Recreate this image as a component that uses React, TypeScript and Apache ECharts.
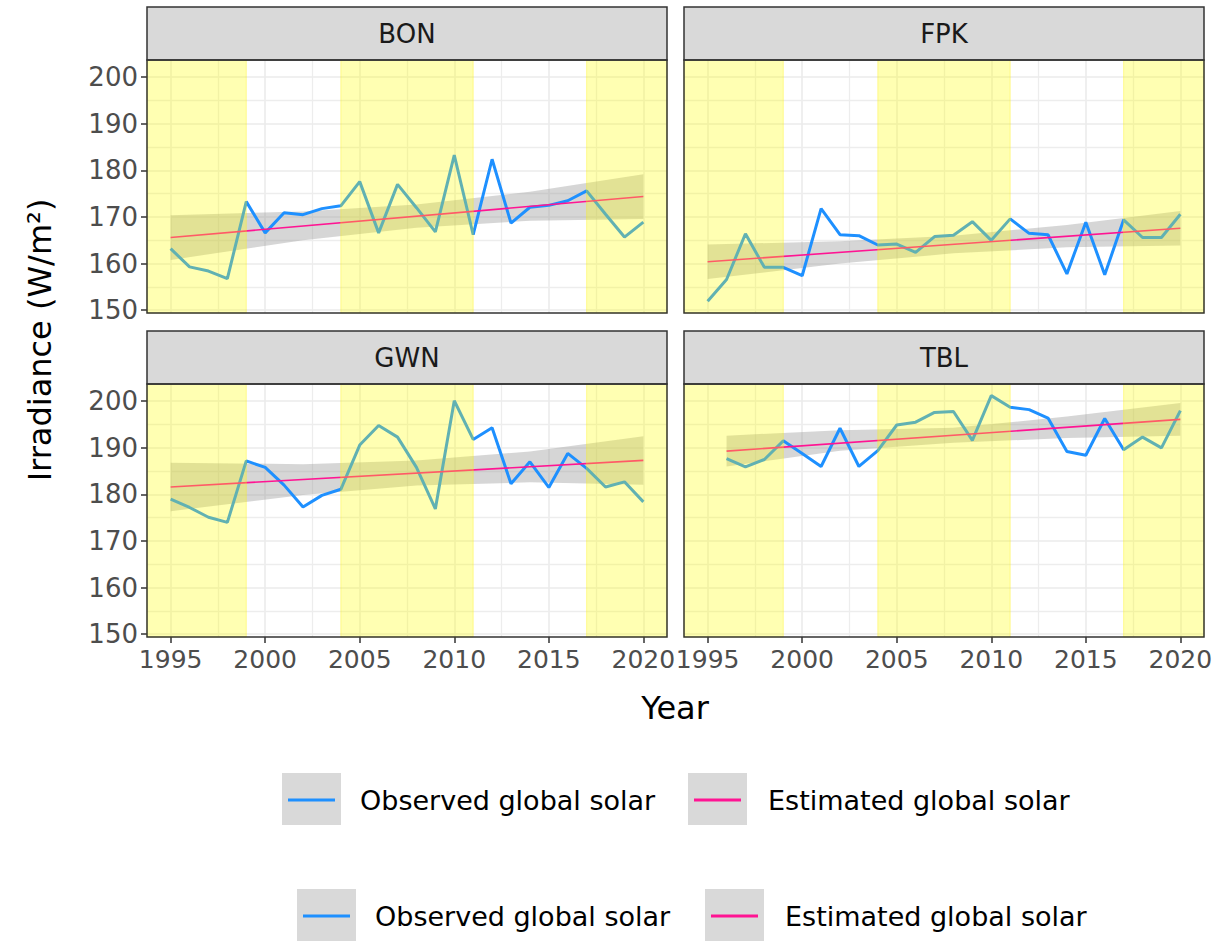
import React, { useEffect, useRef } from "react";
import * as echarts from "echarts";

// ---------- data ----------
const stations = ["BON", "FPK", "GWN", "TBL"];

const yearsFull = [1995, 1996, 1997, 1998, 1999, 2000, 2001, 2002, 2003, 2004, 2005, 2006, 2007, 2008, 2009, 2010, 2011, 2012, 2013, 2014, 2015, 2016, 2017, 2018, 2019, 2020];
const yearsTBL = [1996, 1997, 1998, 1999, 2000, 2001, 2002, 2003, 2004, 2005, 2006, 2007, 2008, 2009, 2010, 2011, 2012, 2013, 2014, 2015, 2016, 2017, 2018, 2019, 2020];

const obsBON = [163.2, 159.3, 158.4, 156.8, 173.3, 166.6, 170.9, 170.5, 171.8, 172.4, 177.6, 166.6, 177.0, 172.0, 166.8, 183.3, 166.2, 182.4, 168.7, 172.1, 172.5, 173.5, 175.6, 170.6, 165.7, 168.9];
const obsFPK = [151.9, 156.6, 166.4, 159.2, 159.2, 157.4, 171.8, 166.2, 166.0, 164.0, 164.2, 162.4, 165.8, 166.1, 169.0, 165.0, 169.6, 166.5, 166.2, 157.8, 168.9, 157.6, 169.4, 165.6, 165.6, 170.6];
const obsGWN = [179.0, 177.2, 175.1, 174.0, 187.2, 185.8, 182.0, 177.3, 179.8, 181.1, 190.6, 194.8, 192.3, 185.8, 176.9, 200.1, 191.8, 194.3, 182.3, 187.0, 181.5, 188.8, 185.6, 181.6, 182.7, 178.4];
const obsTBL = [187.7, 185.9, 187.5, 191.5, 188.8, 186.0, 194.2, 186.0, 189.4, 194.9, 195.5, 197.6, 197.8, 191.6, 201.2, 198.7, 198.2, 196.4, 189.2, 188.4, 196.3, 189.6, 192.3, 190.0, 198.0];

// fitted trend (start, end)
const trendYearsFull = [1995, 2020];
const trendYearsTBL = [1996, 2020];
const trendBON = [165.6, 174.4];
const trendFPK = [160.4, 167.6];
const trendGWN = [181.6, 187.3];
const trendTBL = [189.3, 196.1];

// confidence band of the trend
const ciYearsFull = [1995, 2002, 2008, 2014, 2020];
const ciYearsTBL = [1996, 2002, 2008, 2014, 2020];
const ciLowBON = [160.8, 165.0, 167.7, 169.2, 169.6];
const ciHighBON = [170.4, 171.2, 172.7, 175.4, 179.2];
const ciLowFPK = [156.7, 160.0, 162.2, 163.5, 163.9];
const ciHighFPK = [164.1, 164.8, 166.0, 168.3, 171.3];
const ciLowGWN = [176.4, 179.9, 181.9, 182.6, 182.1];
const ciHighGWN = [186.8, 186.5, 187.3, 189.2, 192.5];
const ciLowTBL = [186.0, 189.4, 191.1, 192.1, 192.6];
const ciHighTBL = [192.6, 193.8, 194.3, 196.7, 199.6];

// shaded periods
const shadeStart = [1993.75, 2004, 2017];
const shadeEnd = [1999, 2011, 2021.25];

// axes
const xTicks = [1995, 2000, 2005, 2010, 2015, 2020];
const xMinor = [1997.5, 2002.5, 2007.5, 2012.5, 2017.5];
const yTicks = [150, 160, 170, 180, 190, 200];
const yMinor = [155, 165, 175, 185, 195];
const X_MIN = 1993.75;
const X_MAX = 2021.25;
const Y_MIN = 149.4;
const Y_MAX = 203.7;

const panelData = [
  { name: stations[0], years: yearsFull, obs: obsBON, tY: trendYearsFull, t: trendBON, ciY: ciYearsFull, lo: ciLowBON, hi: ciHighBON },
  { name: stations[1], years: yearsFull, obs: obsFPK, tY: trendYearsFull, t: trendFPK, ciY: ciYearsFull, lo: ciLowFPK, hi: ciHighFPK },
  { name: stations[2], years: yearsFull, obs: obsGWN, tY: trendYearsFull, t: trendGWN, ciY: ciYearsFull, lo: ciLowGWN, hi: ciHighGWN },
  { name: stations[3], years: yearsTBL, obs: obsTBL, tY: trendYearsTBL, t: trendTBL, ciY: ciYearsTBL, lo: ciLowTBL, hi: ciHighTBL },
];

// ---------- layout ----------
const FONT = "DejaVu Sans";
const BLUE = "#1E90FF";
const PINK = "#FF1493";
const panels = [
  { left: 147, top: 60, width: 520, height: 253 },
  { left: 684, top: 60, width: 520, height: 253 },
  { left: 147, top: 384, width: 520, height: 253 },
  { left: 684, top: 384, width: 520, height: 253 },
];
const STRIP_H = 53;

export default function App() {
  const ref = useRef<HTMLDivElement>(null);

  useEffect(() => {
    if (!ref.current) return;
    const chart = echarts.init(ref.current, undefined, { renderer: "svg" });

    const grid = panels.map((p) => ({
      left: p.left,
      top: p.top,
      width: p.width,
      height: p.height,
      show: true,
      backgroundColor: "#ffffff",
      borderWidth: 0,
    }));

    const xAxis = panels.map((_, i) => ({
      gridIndex: i,
      type: "value",
      min: X_MIN,
      max: X_MAX,
      axisLine: { show: false },
      splitLine: { show: false },
      axisTick: { show: i >= 2, customValues: xTicks, length: 6, lineStyle: { color: "#333333", width: 1.5 } },
      axisLabel: {
        show: i >= 2,
        customValues: xTicks,
        margin: 10,
        fontSize: 25,
        fontFamily: FONT,
        color: "#4D4D4D",
        formatter: (v: number) => String(v),
      },
    }));

    const yAxis = panels.map((_, i) => ({
      gridIndex: i,
      type: "value",
      min: Y_MIN,
      max: Y_MAX,
      axisLine: { show: false },
      splitLine: { show: false },
      axisTick: { show: i % 2 === 0, customValues: yTicks, length: 6, lineStyle: { color: "#333333", width: 1.5 } },
      axisLabel: {
        show: i % 2 === 0,
        customValues: yTicks,
        margin: 9,
        fontSize: 26,
        fontFamily: FONT,
        color: "#4D4D4D",
        formatter: (v: number) => String(v),
      },
    }));

    const series: any[] = [];
    panelData.forEach((d, i) => {
      // grid lines
      series.push({
        type: "line",
        xAxisIndex: i,
        yAxisIndex: i,
        data: d.tY.map((y, k) => [y, d.t[k]]),
        symbol: "none",
        lineStyle: { opacity: 0 },
        silent: true,
        z: 1,
        markLine: {
          silent: true,
          z: 1,
          symbol: ["none", "none"],
          label: { show: false },
          lineStyle: { color: "#EBEBEB", width: 1.6, type: "solid" },
          emphasis: { disabled: true },
          data: [
            ...xTicks.map((v) => ({ xAxis: v })),
            ...xMinor.map((v) => ({ xAxis: v, lineStyle: { width: 1.3, color: "#EDEDED" } })),
            ...yTicks.map((v) => ({ yAxis: v })),
            ...yMinor.map((v) => ({ yAxis: v, lineStyle: { width: 1.3, color: "#EDEDED" } })),
          ],
        },
      });
      // confidence ribbon
      series.push({
        type: "custom",
        xAxisIndex: i,
        yAxisIndex: i,
        z: 2,
        silent: true,
        data: d.ciY.map((y, k) => [y, d.lo[k], d.hi[k]]),
        encode: { x: 0, y: [1, 2] },
        renderItem: (params: any, api: any) => {
          if (params.dataIndex !== 0) return { type: "group", children: [] };
          const pts: number[][] = [];
          for (let k = 0; k < d.ciY.length; k++) pts.push(api.coord([d.ciY[k], d.hi[k]]));
          for (let k = d.ciY.length - 1; k >= 0; k--) pts.push(api.coord([d.ciY[k], d.lo[k]]));
          return { type: "polygon", shape: { points: pts }, style: { fill: "rgba(153,153,153,0.4)" } };
        },
      });
      // observed
      series.push({
        name: "Observed global solar",
        type: "line",
        xAxisIndex: i,
        yAxisIndex: i,
        z: 3,
        data: d.years.map((y, k) => [y, d.obs[k]]),
        symbol: "none",
        lineStyle: { color: BLUE, width: 3 },
        itemStyle: { color: BLUE },
      });
      // trend
      series.push({
        name: "Estimated global solar",
        type: "line",
        xAxisIndex: i,
        yAxisIndex: i,
        z: 3,
        data: d.tY.map((y, k) => [y, d.t[k]]),
        symbol: "none",
        lineStyle: { color: PINK, width: 1.6 },
        itemStyle: { color: PINK },
      });
      // shaded periods (semi-transparent on top)
      series.push({
        type: "line",
        xAxisIndex: i,
        yAxisIndex: i,
        data: [],
        z: 10,
        silent: true,
        markArea: {
          silent: true,
          z: 10,
          label: { show: false },
          itemStyle: { color: "rgba(255,255,0,0.3)", borderColor: "rgba(255,240,0,0.35)", borderWidth: 1 },
          emphasis: { disabled: true },
          data: shadeStart.map((s, k) => [{ xAxis: s }, { xAxis: shadeEnd[k] }]),
        },
      });
    });

    const graphics: any[] = [];
    panels.forEach((p, i) => {
      graphics.push({
        type: "rect",
        z: 100,
        shape: { x: p.left, y: p.top - STRIP_H, width: p.width, height: STRIP_H },
        style: { fill: "#D9D9D9", stroke: "#333333", lineWidth: 1.5 },
      });
      graphics.push({
        type: "text",
        z: 101,
        x: p.left + p.width / 2,
        y: p.top - STRIP_H / 2,
        style: { text: panelData[i].name, fontSize: 26, fontFamily: FONT, fill: "#1A1A1A", align: "center", verticalAlign: "middle" },
      });
      graphics.push({
        type: "rect",
        z: 100,
        shape: { x: p.left, y: p.top, width: p.width, height: p.height },
        style: { fill: "transparent", stroke: "#333333", lineWidth: 1.5 },
      });
    });
    // axis titles
    graphics.push({
      type: "text",
      z: 101,
      x: 675,
      y: 708,
      style: { text: "Year", fontSize: 32, fontFamily: FONT, fill: "#000000", align: "center", verticalAlign: "middle" },
    });
    graphics.push({
      type: "text",
      z: 101,
      x: 40,
      y: 340,
      rotation: Math.PI / 2,
      style: { text: "Irradiance (W/m²)", fontSize: 32, fontFamily: FONT, fill: "#000000", align: "center", verticalAlign: "middle" },
    });
    // legends (two copies as in the original)
    const legendRows = [
      { keyX: [282, 688], textX: [360, 768], top: 773 },
      { keyX: [297, 705], textX: [375, 785], top: 889 },
    ];
    const legendItems = [
      { label: "Observed global solar", color: BLUE },
      { label: "Estimated global solar", color: PINK },
    ];
    legendRows.forEach((r) => {
      legendItems.forEach((it, k) => {
        graphics.push({
          type: "rect",
          z: 100,
          shape: { x: r.keyX[k], y: r.top, width: 59, height: 52 },
          style: { fill: "#D9D9D9" },
        });
        graphics.push({
          type: "line",
          z: 101,
          shape: { x1: r.keyX[k] + 6, y1: r.top + 27, x2: r.keyX[k] + 53, y2: r.top + 27 },
          style: { stroke: it.color, lineWidth: 3 },
        });
        graphics.push({
          type: "text",
          z: 101,
          x: r.textX[k],
          y: r.top + 27,
          style: { text: it.label, fontSize: 27, fontFamily: FONT, fill: "#000000", align: "left", verticalAlign: "middle" },
        });
      });
    });

    chart.setOption({
      animation: false,
      backgroundColor: "#ffffff",
      grid,
      xAxis,
      yAxis,
      series,
      graphic: { elements: graphics },
    });

    return () => chart.dispose();
  }, []);

  return <div ref={ref} style={{ position: "absolute", left: 0, top: 0, width: 1225, height: 941 }} />;
}
